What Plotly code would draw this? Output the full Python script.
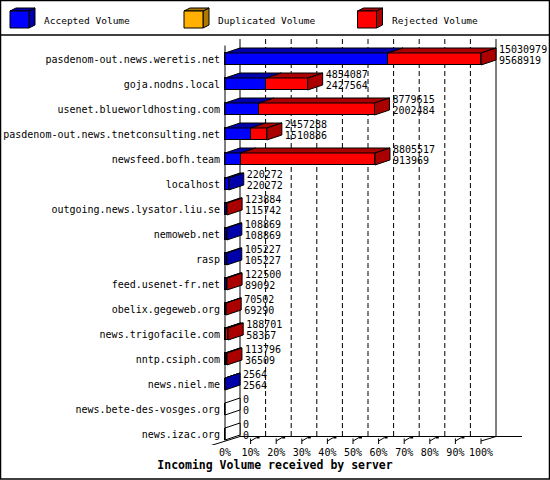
import plotly.graph_objects as go

servers = [
    "pasdenom-out.news.weretis.net", "goja.nodns.local", "usenet.blueworldhosting.com",
    "pasdenom-out.news.tnetconsulting.net", "newsfeed.bofh.team", "localhost",
    "outgoing.news.lysator.liu.se", "nemoweb.net", "rasp", "feed.usenet-fr.net",
    "obelix.gegeweb.org", "news.trigofacile.com", "nntp.csiph.com", "news.niel.me",
    "news.bete-des-vosges.org", "news.izac.org",
]
total_volume = [15030979, 4854087, 8779615, 2457288, 8805517, 220272, 123884, 108869,
                105227, 122500, 70502, 188701, 113796, 2564, 0, 0]
accepted_volume = [9568919, 2427564, 2002484, 1510886, 913969, 220272, 115742, 108869,
                   105227, 89092, 69290, 58367, 36509, 2564, 0, 0]
duplicated_volume = [0, 0, 0, 0, 0, 0, 0, 0, 0, 0, 0, 0, 0, 0, 0, 0]
series_names = ["Accepted Volume", "Duplicated Volume", "Rejected Volume"]
pct_ticks = [0, 10, 20, 30, 40, 50, 60, 70, 80, 90, 100]
x_title = "Incoming Volume received by server"

# ---- styling / geometry ----
W, H = 550, 480
MB = 35                       # bottom margin (tick labels + title)
X0PX, PXPCT = 225.0, 2.56     # front plane: 0% at px 225, 2.56 px per percent
ROW0, ROWPX = 59.0, 25.0      # first row centre, row pitch (px)
DX = 15 / PXPCT               # depth offset in data units
DY = 5 / ROWPX
HB = 6 / ROWPX                # half bar height
FRONT = ["#0000FF", "#FFB000", "#FF0000"]
DARK = ["#0000AA", "#B07800", "#AA0000"]
MONO = "DejaVu Sans Mono"


def fx(px):
    return (px - X0PX) / PXPCT


def fy(py):
    return (py - ROW0) / ROWPX


n = len(servers)
rows = list(range(n))
vmax = max(total_volume)
rejected_volume = [t - a - d for t, a, d in zip(total_volume, accepted_volume, duplicated_volume)]
series = [accepted_volume, duplicated_volume, rejected_volume]
series_pct = [[v / vmax * 100 for v in s] for s in series]
total_pct = [t / vmax * 100 for t in total_volume]

fig = go.Figure()

# front faces as stacked horizontal bars
for k in range(3):
    fig.add_trace(go.Bar(
        y=rows, x=series_pct[k], orientation="h", width=2 * HB, name=series_names[k],
        marker=dict(color=FRONT[k], line=dict(color="black", width=1)),
        showlegend=False, hoverinfo="skip"))

# 3D top faces per series, side faces coloured by the last segment
top_poly = [([], []) for _ in range(3)]
side_poly = [([], []) for _ in range(4)]  # index 3 = empty (white)
for i in rows:
    start = 0.0
    last = 3
    for k in range(3):
        w = series_pct[k][i]
        if w > 0:
            x0, x1 = start, start + w
            xs, ys = top_poly[k]
            xs += [x0, x1, x1 + DX, x0 + DX, x0, None]
            ys += [i - HB, i - HB, i - HB - DY, i - HB - DY, i - HB, None]
            start = x1
            last = k
    xe = total_pct[i]
    xs, ys = side_poly[last]
    xs += [xe, xe, xe + DX, xe + DX, xe, None]
    ys += [i - HB, i + HB, i + HB - DY, i - HB - DY, i - HB, None]

for k in range(3):
    if top_poly[k][0]:
        fig.add_trace(go.Scatter(x=top_poly[k][0], y=top_poly[k][1], mode="lines", fill="toself",
                                 fillcolor=DARK[k], line=dict(color="black", width=1),
                                 showlegend=False, hoverinfo="skip"))
for k in range(4):
    if side_poly[k][0]:
        fig.add_trace(go.Scatter(x=side_poly[k][0], y=side_poly[k][1], mode="lines", fill="toself",
                                 fillcolor=DARK[k] if k < 3 else "white",
                                 line=dict(color="black", width=1),
                                 showlegend=False, hoverinfo="skip"))

# value labels (total above, accepted below)
lab_x = [p + DX + 3 / PXPCT for p in total_pct]
fig.add_trace(go.Scatter(x=lab_x, y=[i - 8.5 / ROWPX for i in rows], mode="text",
                         text=[str(v) for v in total_volume], textposition="middle right",
                         textfont=dict(family=MONO, size=10, color="black"),
                         cliponaxis=False, showlegend=False, hoverinfo="skip"))
fig.add_trace(go.Scatter(x=lab_x, y=[i + 2 / ROWPX for i in rows], mode="text",
                         text=[str(v) for v in accepted_volume], textposition="middle right",
                         textfont=dict(family=MONO, size=10, color="black"),
                         cliponaxis=False, showlegend=False, hoverinfo="skip"))

shapes = []
# back wall grid (dashed) and edges
top_back, floor_back = fy(39), fy(436.5)
for t in pct_ticks[1:-1]:
    shapes.append(dict(type="line", x0=t + DX, x1=t + DX, y0=top_back, y1=floor_back,
                       line=dict(color="black", width=1, dash="5px,3px"), layer="below"))
for t in (pct_ticks[0], pct_ticks[-1]):
    shapes.append(dict(type="line", x0=t + DX, x1=t + DX, y0=top_back, y1=floor_back,
                       line=dict(color="black", width=1), layer="below"))
# front axis line
shapes.append(dict(type="line", x0=0, x1=0, y0=fy(45.5), y1=fy(440.5),
                   line=dict(color="black", width=1)))
# floor
shapes.append(dict(type="line", x0=fx(240), x1=fx(522), y0=floor_back, y1=floor_back,
                   line=dict(color="black", width=1)))
shapes.append(dict(type="line", x0=fx(211), x1=fx(240), y0=fy(445.5), y1=floor_back,
                   line=dict(color="black", width=1)))
shapes.append(dict(type="line", x0=100, x1=100 + DX, y0=fy(441), y1=floor_back,
                   line=dict(color="black", width=1)))
for t in pct_ticks[1:]:
    shapes.append(dict(type="line", x0=t, x1=t, y0=fy(438.5), y1=fy(444),
                       line=dict(color="black", width=1)))
    if t < 100:
        shapes.append(dict(type="line", x0=t, x1=t + fx(231), y0=fy(441), y1=fy(437.5),
                           line=dict(color="black", width=1)))
        shapes.append(dict(type="rect", x0=t + fx(231), x1=t + fx(234), y0=fy(436), y1=fy(438.5),
                           line=dict(width=0), fillcolor="black"))

# legend: 3D cubes + labels
leg_x = [10, 184, 357.5]
leg_tx = [42, 216, 390]
annotations = []
for k in range(3):
    L = leg_x[k]
    R = L + 19
    T, B = 11, 28
    shapes.append(dict(type="path",
                       path=f"M {fx(R)},{fy(T)} L {fx(R + 6)},{fy(T - 3)} L {fx(R + 6)},{fy(B - 3)} L {fx(R)},{fy(B)} Z",
                       fillcolor=DARK[k], line=dict(color="black", width=1)))
    shapes.append(dict(type="path",
                       path=f"M {fx(L)},{fy(T)} L {fx(L + 6)},{fy(T - 3)} L {fx(R + 6)},{fy(T - 3)} L {fx(R)},{fy(T)} Z",
                       fillcolor=DARK[k], line=dict(color="black", width=1)))
    shapes.append(dict(type="rect", x0=fx(L), x1=fx(R), y0=fy(T), y1=fy(B),
                       fillcolor=FRONT[k], line=dict(color="black", width=1)))
    annotations.append(dict(x=fx(leg_tx[k]), y=fy(20), xref="x", yref="y", text=series_names[k],
                            showarrow=False, xanchor="left", yanchor="middle",
                            font=dict(family=MONO, size=9.5, color="black")))
# legend separator and outer frame
shapes.append(dict(type="line", xref="paper", yref="paper", x0=0, x1=1,
                   y0=(H - MB - 35) / (H - MB), y1=(H - MB - 35) / (H - MB),
                   line=dict(color="black", width=1.5)))
shapes.append(dict(type="rect", xref="paper", yref="paper", x0=0.5 / W, x1=1 - 0.5 / W,
                   y0=-(MB - 1) / (H - MB), y1=1 - 0.5 / (H - MB),
                   line=dict(color="black", width=1.5), fillcolor="rgba(0,0,0,0)"))

fig.update_layout(
    width=W, height=H, margin=dict(l=0, r=0, t=0, b=MB),
    paper_bgcolor="white", plot_bgcolor="white", barmode="stack", bargap=0,
    shapes=shapes, annotations=annotations, showlegend=False,
    xaxis=dict(range=[fx(0), fx(W)], tickvals=pct_ticks, ticktext=[f"{t}%" for t in pct_ticks],
               showgrid=False, zeroline=False, showline=False, ticks="",
               tickfont=dict(family=MONO, size=10, color="black"),
               title=dict(text=f"<b>{x_title}</b>", standoff=2,
                          font=dict(family=MONO, size=11.5, color="black")),
               fixedrange=True, automargin=False),
    yaxis=dict(range=[fy(H - MB), fy(0)], tickvals=rows, ticktext=servers,
               anchor="free", position=X0PX / W, showgrid=False, zeroline=False, showline=False,
               ticks="", ticklabelstandoff=5,
               tickfont=dict(family=MONO, size=10, color="black"), fixedrange=True,
               automargin=False),
)

fig.write_html("out.html", config={"displayModeBar": False},
               post_script="document.body.style.margin='0';document.body.style.overflow='hidden';")
